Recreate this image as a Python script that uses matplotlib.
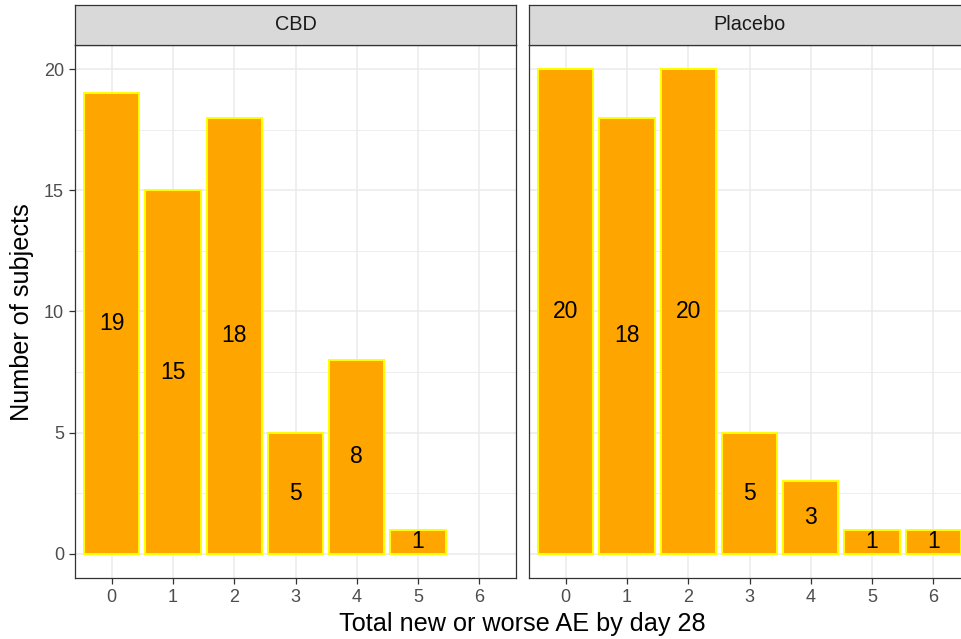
import matplotlib
matplotlib.use("Agg")
import matplotlib.pyplot as plt
from matplotlib.ticker import MultipleLocator

plt.rcParams["font.family"] = ["Liberation Sans", "DejaVu Sans"]

# data
groups = ["CBD", "Placebo"]
ae_levels = [0, 1, 2, 3, 4, 5, 6]
cbd_x = [0, 1, 2, 3, 4, 5]
cbd_n = [19, 15, 18, 5, 8, 1]
placebo_x = [0, 1, 2, 3, 4, 5, 6]
placebo_n = [20, 18, 20, 5, 3, 1, 1]

W, H = 961, 639
fig = plt.figure(figsize=(W / 100, H / 100), dpi=100)

GRID = "#EBEBEB"
DARK = "#333333"


def px_box(x0, y0, x1, y1):
    return [x0 / W, 1 - y1 / H, (x1 - x0) / W, (y1 - y0) / H]


panel_x = [(75, 516), (529, 970)]
series = [(cbd_x, cbd_n), (placebo_x, placebo_n)]

for i, (name, (xs, ns)) in enumerate(zip(groups, series)):
    x0, x1 = panel_x[i]
    ax = fig.add_axes(px_box(x0, 45, x1, 578))
    ax.set_xlim(-0.6, len(ae_levels) - 1 + 0.6)
    ax.set_ylim(-1, 21)
    ax.yaxis.set_major_locator(MultipleLocator(5))
    ax.yaxis.set_minor_locator(MultipleLocator(2.5))
    ax.set_xticks(ae_levels)
    ax.set_xticklabels([str(v) for v in ae_levels])
    ax.grid(which="major", color=GRID, linewidth=1.1, zorder=0)
    ax.grid(which="minor", axis="y", color=GRID, linewidth=0.6, zorder=0)
    ax.set_axisbelow(True)
    for s in ax.spines.values():
        s.set_color(DARK)
        s.set_linewidth(0.9)

    ax.bar(xs, ns, width=0.9, color="#FFA500", edgecolor="#FFFF00",
           linewidth=1.4, zorder=2)
    for x, n in zip(xs, ns):
        ax.text(x, n / 2, str(n), ha="center", va="center",
                fontsize=16.5, color="black", zorder=3)

    ax.tick_params(axis="both", which="major", length=4.5, width=0.9,
                   color=DARK, labelcolor="#4D4D4D", labelsize=13)
    ax.tick_params(axis="y", which="minor", length=0)
    if i == 0:
        ax.set_yticks([0, 5, 10, 15, 20])
    else:
        ax.tick_params(axis="y", which="major", left=False, labelleft=False)

    # facet strip
    sax = fig.add_axes(px_box(x0, 5, x1, 45))
    sax.set_facecolor("#D9D9D9")
    sax.set_xticks([])
    sax.set_yticks([])
    for s in sax.spines.values():
        s.set_color(DARK)
        s.set_linewidth(0.9)
    sax.text(0.5, 0.5, name, transform=sax.transAxes, ha="center",
             va="center", fontsize=14.3, color="#1A1A1A")

fig.text(522 / W, 1 - 624 / H, "Total new or worse AE by day 28",
         ha="center", va="center", fontsize=18.2, color="black")
fig.text(22 / W, 1 - 312 / H, "Number of subjects", rotation=90,
         ha="center", va="center", fontsize=18.2, color="black")

fig.savefig("out.png", dpi=100)
